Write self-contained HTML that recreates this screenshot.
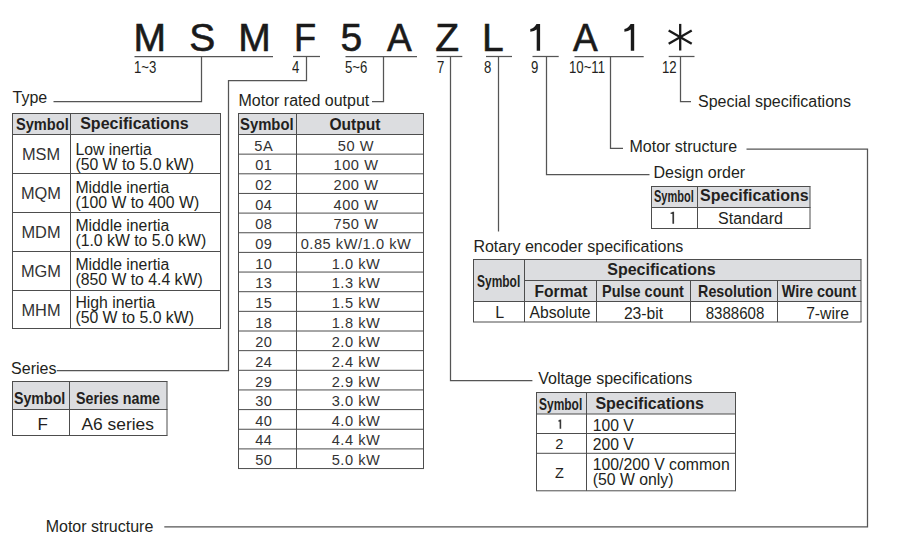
<!DOCTYPE html>
<html><head><meta charset="utf-8"><style>
html,body{margin:0;padding:0;background:#fff;}
body{width:909px;height:559px;position:relative;overflow:hidden;font-family:"Liberation Sans", sans-serif;}
.t{position:absolute;white-space:pre;line-height:1;}
svg{position:absolute;left:0;top:0;}
</style></head><body>
<svg width="909" height="559" viewBox="0 0 909 559"><path d="M540.1 24.1 L540.1 50.7 L536.7 50.7 L536.7 29.6 Q534.2 31.5 530.3000000000001 31.7 L530.3000000000001 29.1 Q533.9000000000001 28.6 536.5 24.1 Z" fill="#1a1a1a"/><path d="M634.2 24.1 L634.2 50.7 L630.8000000000001 50.7 L630.8000000000001 29.6 Q628.3000000000001 31.5 624.4000000000001 31.7 L624.4000000000001 29.1 Q628.0000000000001 28.6 630.6 24.1 Z" fill="#1a1a1a"/><line x1="680.2" y1="23.900000000000002" x2="680.2" y2="50.5" stroke="#1a1a1a" stroke-width="2.3"/><line x1="668.68" y1="43.85" x2="691.72" y2="30.55" stroke="#1a1a1a" stroke-width="2.3"/><line x1="668.68" y1="30.55" x2="691.72" y2="43.85" stroke="#1a1a1a" stroke-width="2.3"/><line x1="134.5" y1="56.5" x2="273" y2="56.5" stroke="#555555" stroke-width="1.25"/><line x1="293" y1="56.5" x2="320" y2="56.5" stroke="#555555" stroke-width="1.25"/><line x1="345.5" y1="56.5" x2="417" y2="56.5" stroke="#555555" stroke-width="1.25"/><line x1="436.6" y1="56.5" x2="462.3" y2="56.5" stroke="#555555" stroke-width="1.25"/><line x1="486" y1="56.5" x2="512" y2="56.5" stroke="#555555" stroke-width="1.25"/><line x1="532.5" y1="56.5" x2="558.7" y2="56.5" stroke="#555555" stroke-width="1.25"/><line x1="574.5" y1="56.5" x2="643.7" y2="56.5" stroke="#555555" stroke-width="1.25"/><line x1="668.7" y1="56.5" x2="694.5" y2="56.5" stroke="#555555" stroke-width="1.25"/><polyline points="201.5,56.5 201.5,101.5 53.5,101.5" fill="none" stroke="#555555" stroke-width="1.25" stroke-linejoin="miter"/><polyline points="306.5,56.5 306.5,80.5 228.5,80.5 228.5,370.5 56.8,370.5" fill="none" stroke="#555555" stroke-width="1.25" stroke-linejoin="miter"/><polyline points="383.5,56.5 383.5,101.5 372,101.5" fill="none" stroke="#555555" stroke-width="1.25" stroke-linejoin="miter"/><polyline points="450.5,56.5 450.5,380.5 532.4,380.5" fill="none" stroke="#555555" stroke-width="1.25" stroke-linejoin="miter"/><line x1="498.5" y1="56.5" x2="498.5" y2="231.5" stroke="#555555" stroke-width="1.25"/><polyline points="546.5,56.5 546.5,174.5 649.5,174.5" fill="none" stroke="#555555" stroke-width="1.25" stroke-linejoin="miter"/><polyline points="610.5,56.5 610.5,148.3 623,148.3" fill="none" stroke="#555555" stroke-width="1.25" stroke-linejoin="miter"/><polyline points="680.5,56.5 680.5,101.5 691,101.5" fill="none" stroke="#555555" stroke-width="1.25" stroke-linejoin="miter"/><polyline points="746.5,149 867.5,149 867.5,526.8 164.3,526.8" fill="none" stroke="#555555" stroke-width="1.25" stroke-linejoin="miter"/><rect x="12.5" y="113.5" width="208.0" height="21.0" fill="#dcdde0"/><line x1="12.0" y1="113.5" x2="221.0" y2="113.5" stroke="#4d4d4d" stroke-width="1.0"/><line x1="12.0" y1="134.5" x2="221.0" y2="134.5" stroke="#4d4d4d" stroke-width="1.0"/><line x1="12.0" y1="173.5" x2="221.0" y2="173.5" stroke="#4d4d4d" stroke-width="1.0"/><line x1="12.0" y1="212.5" x2="221.0" y2="212.5" stroke="#4d4d4d" stroke-width="1.0"/><line x1="12.0" y1="251.5" x2="221.0" y2="251.5" stroke="#4d4d4d" stroke-width="1.0"/><line x1="12.0" y1="290.5" x2="221.0" y2="290.5" stroke="#4d4d4d" stroke-width="1.0"/><line x1="12.0" y1="328.5" x2="221.0" y2="328.5" stroke="#4d4d4d" stroke-width="1.0"/><line x1="12.5" y1="113.5" x2="12.5" y2="328.5" stroke="#4d4d4d" stroke-width="1.0"/><line x1="220.5" y1="113.5" x2="220.5" y2="328.5" stroke="#4d4d4d" stroke-width="1.0"/><line x1="70.5" y1="113.5" x2="70.5" y2="328.5" stroke="#4d4d4d" stroke-width="1.0"/><rect x="238.5" y="113.5" width="185.0" height="21.0" fill="#dcdde0"/><line x1="238.0" y1="113.5" x2="424.0" y2="113.5" stroke="#4d4d4d" stroke-width="1.0"/><line x1="238.0" y1="134.5" x2="424.0" y2="134.5" stroke="#4d4d4d" stroke-width="1.0"/><line x1="238.0" y1="154.15" x2="424.0" y2="154.15" stroke="#4d4d4d" stroke-width="1.0"/><line x1="238.0" y1="173.8" x2="424.0" y2="173.8" stroke="#4d4d4d" stroke-width="1.0"/><line x1="238.0" y1="193.45" x2="424.0" y2="193.45" stroke="#4d4d4d" stroke-width="1.0"/><line x1="238.0" y1="213.1" x2="424.0" y2="213.1" stroke="#4d4d4d" stroke-width="1.0"/><line x1="238.0" y1="232.75" x2="424.0" y2="232.75" stroke="#4d4d4d" stroke-width="1.0"/><line x1="238.0" y1="252.4" x2="424.0" y2="252.4" stroke="#4d4d4d" stroke-width="1.0"/><line x1="238.0" y1="272.05" x2="424.0" y2="272.05" stroke="#4d4d4d" stroke-width="1.0"/><line x1="238.0" y1="291.7" x2="424.0" y2="291.7" stroke="#4d4d4d" stroke-width="1.0"/><line x1="238.0" y1="311.35" x2="424.0" y2="311.35" stroke="#4d4d4d" stroke-width="1.0"/><line x1="238.0" y1="331.0" x2="424.0" y2="331.0" stroke="#4d4d4d" stroke-width="1.0"/><line x1="238.0" y1="350.65" x2="424.0" y2="350.65" stroke="#4d4d4d" stroke-width="1.0"/><line x1="238.0" y1="370.3" x2="424.0" y2="370.3" stroke="#4d4d4d" stroke-width="1.0"/><line x1="238.0" y1="389.95" x2="424.0" y2="389.95" stroke="#4d4d4d" stroke-width="1.0"/><line x1="238.0" y1="409.6" x2="424.0" y2="409.6" stroke="#4d4d4d" stroke-width="1.0"/><line x1="238.0" y1="429.25" x2="424.0" y2="429.25" stroke="#4d4d4d" stroke-width="1.0"/><line x1="238.0" y1="448.9" x2="424.0" y2="448.9" stroke="#4d4d4d" stroke-width="1.0"/><line x1="238.0" y1="468.55" x2="424.0" y2="468.55" stroke="#4d4d4d" stroke-width="1.0"/><line x1="238.5" y1="113.5" x2="238.5" y2="468.55" stroke="#4d4d4d" stroke-width="1.0"/><line x1="423.5" y1="113.5" x2="423.5" y2="468.55" stroke="#4d4d4d" stroke-width="1.0"/><line x1="296.5" y1="113.5" x2="296.5" y2="468.55" stroke="#4d4d4d" stroke-width="1.0"/><rect x="12.5" y="381.5" width="154.5" height="28.0" fill="#dcdde0"/><line x1="12.0" y1="381.5" x2="167.5" y2="381.5" stroke="#4d4d4d" stroke-width="1.0"/><line x1="12.0" y1="409.5" x2="167.5" y2="409.5" stroke="#4d4d4d" stroke-width="1.0"/><line x1="12.0" y1="435.5" x2="167.5" y2="435.5" stroke="#4d4d4d" stroke-width="1.0"/><line x1="12.5" y1="381.5" x2="12.5" y2="435.5" stroke="#4d4d4d" stroke-width="1.0"/><line x1="167" y1="381.5" x2="167" y2="435.5" stroke="#4d4d4d" stroke-width="1.0"/><line x1="69.5" y1="381.5" x2="69.5" y2="435.5" stroke="#4d4d4d" stroke-width="1.0"/><rect x="651.5" y="186.5" width="158.5" height="21.0" fill="#dcdde0"/><line x1="651.0" y1="186.5" x2="810.5" y2="186.5" stroke="#4d4d4d" stroke-width="1.0"/><line x1="651.0" y1="207.5" x2="810.5" y2="207.5" stroke="#4d4d4d" stroke-width="1.0"/><line x1="651.0" y1="228.5" x2="810.5" y2="228.5" stroke="#4d4d4d" stroke-width="1.0"/><line x1="651.5" y1="186.5" x2="651.5" y2="228.5" stroke="#4d4d4d" stroke-width="1.0"/><line x1="810" y1="186.5" x2="810" y2="228.5" stroke="#4d4d4d" stroke-width="1.0"/><line x1="697.5" y1="186.5" x2="697.5" y2="228.5" stroke="#4d4d4d" stroke-width="1.0"/><path d="M674.1 211.8 L674.1 223.8 L672.4 223.8 L672.4 214.0 L670.5 213.70000000000002 L670.5 212.70000000000002 C671.8 212.60000000000002 672.4 212.20000000000002 672.6999999999999 211.8 Z" fill="#383838"/><rect x="473.5" y="259.5" width="387.5" height="42.0" fill="#dcdde0"/><line x1="473" y1="259.5" x2="861.5" y2="259.5" stroke="#4d4d4d" stroke-width="1.0"/><line x1="473" y1="301.5" x2="861.5" y2="301.5" stroke="#4d4d4d" stroke-width="1.0"/><line x1="473" y1="322" x2="861.5" y2="322" stroke="#4d4d4d" stroke-width="1.0"/><line x1="524.5" y1="280.5" x2="861" y2="280.5" stroke="#4d4d4d" stroke-width="1.0"/><line x1="473.5" y1="259.5" x2="473.5" y2="322" stroke="#4d4d4d" stroke-width="1.0"/><line x1="524.5" y1="259.5" x2="524.5" y2="322" stroke="#4d4d4d" stroke-width="1.0"/><line x1="861" y1="259.5" x2="861" y2="322" stroke="#4d4d4d" stroke-width="1.0"/><line x1="596.5" y1="280.5" x2="596.5" y2="322" stroke="#4d4d4d" stroke-width="1.0"/><line x1="690.5" y1="280.5" x2="690.5" y2="322" stroke="#4d4d4d" stroke-width="1.0"/><line x1="777.5" y1="280.5" x2="777.5" y2="322" stroke="#4d4d4d" stroke-width="1.0"/><rect x="536.5" y="392.5" width="199.0" height="21.5" fill="#dcdde0"/><line x1="536.0" y1="392.5" x2="736.0" y2="392.5" stroke="#4d4d4d" stroke-width="1.0"/><line x1="536.0" y1="414" x2="736.0" y2="414" stroke="#4d4d4d" stroke-width="1.0"/><line x1="536.0" y1="433.5" x2="736.0" y2="433.5" stroke="#4d4d4d" stroke-width="1.0"/><line x1="536.0" y1="453.3" x2="736.0" y2="453.3" stroke="#4d4d4d" stroke-width="1.0"/><line x1="536.0" y1="490.8" x2="736.0" y2="490.8" stroke="#4d4d4d" stroke-width="1.0"/><line x1="536.5" y1="392.5" x2="536.5" y2="490.8" stroke="#4d4d4d" stroke-width="1.0"/><line x1="735.5" y1="392.5" x2="735.5" y2="490.8" stroke="#4d4d4d" stroke-width="1.0"/><line x1="586.5" y1="392.5" x2="586.5" y2="490.8" stroke="#4d4d4d" stroke-width="1.0"/><path d="M561.2 419.6 L561.2 428.8 L559.6 428.8 L559.6 421.8 L558.3000000000001 421.5 L558.3000000000001 420.5 C559.0 420.40000000000003 559.6 420.0 559.9 419.6 Z" fill="#383838"/></svg>
<div class="t" style="left:133.54px;top:17.99px;font-size:39px;font-weight:normal;color:#1a1a1a;-webkit-text-stroke:0.6px #1a1a1a;">M</div><div class="t" style="left:189.35px;top:17.99px;font-size:39px;font-weight:normal;color:#1a1a1a;-webkit-text-stroke:0.6px #1a1a1a;">S</div><div class="t" style="left:238.24px;top:17.99px;font-size:39px;font-weight:normal;color:#1a1a1a;-webkit-text-stroke:0.6px #1a1a1a;">M</div><div class="t" style="left:293.5px;top:17.99px;font-size:39px;font-weight:normal;color:#1a1a1a;transform:scaleX(0.93);transform-origin:left 0;-webkit-text-stroke:0.6px #1a1a1a;">F</div><div class="t" style="left:340.55px;top:17.99px;font-size:39px;font-weight:normal;color:#1a1a1a;-webkit-text-stroke:0.6px #1a1a1a;">5</div><div class="t" style="left:386.62px;top:17.99px;font-size:39px;font-weight:normal;color:#1a1a1a;transform:scaleX(0.95);transform-origin:left 0;-webkit-text-stroke:0.6px #1a1a1a;">A</div><div class="t" style="left:435.18px;top:17.99px;font-size:39px;font-weight:normal;color:#1a1a1a;-webkit-text-stroke:0.6px #1a1a1a;">Z</div><div class="t" style="left:481.88px;top:17.99px;font-size:39px;font-weight:normal;color:#1a1a1a;-webkit-text-stroke:0.6px #1a1a1a;">L</div><div class="t" style="left:572.62px;top:17.99px;font-size:39px;font-weight:normal;color:#1a1a1a;transform:scaleX(0.95);transform-origin:left 0;-webkit-text-stroke:0.6px #1a1a1a;">A</div><div class="t" style="left:134.4px;top:59.20px;font-size:16.3px;font-weight:normal;color:#231f20;transform:scaleX(0.81);transform-origin:left 0;">1~3</div><div class="t" style="left:292.4px;top:59.20px;font-size:16.3px;font-weight:normal;color:#231f20;transform:scaleX(0.81);transform-origin:left 0;">4</div><div class="t" style="left:344.8px;top:59.20px;font-size:16.3px;font-weight:normal;color:#231f20;transform:scaleX(0.81);transform-origin:left 0;">5~6</div><div class="t" style="left:436.5px;top:59.20px;font-size:16.3px;font-weight:normal;color:#231f20;transform:scaleX(0.81);transform-origin:left 0;">7</div><div class="t" style="left:484.0px;top:59.20px;font-size:16.3px;font-weight:normal;color:#231f20;transform:scaleX(0.81);transform-origin:left 0;">8</div><div class="t" style="left:530.5px;top:59.20px;font-size:16.3px;font-weight:normal;color:#231f20;transform:scaleX(0.81);transform-origin:left 0;">9</div><div class="t" style="left:569.4px;top:59.20px;font-size:16.3px;font-weight:normal;color:#231f20;transform:scaleX(0.81);transform-origin:left 0;">10~11</div><div class="t" style="left:662.2px;top:59.20px;font-size:16.3px;font-weight:normal;color:#231f20;transform:scaleX(0.81);transform-origin:left 0;">12</div><div class="t" style="left:12.5px;top:89.56px;font-size:16px;font-weight:normal;color:#231f20;">Type</div><div class="t" style="left:238.5px;top:93.06px;font-size:16px;font-weight:normal;color:#231f20;">Motor rated output</div><div class="t" style="left:11.1px;top:360.56px;font-size:16px;font-weight:normal;color:#231f20;">Series</div><div class="t" style="left:698px;top:94.46px;font-size:16px;font-weight:normal;color:#231f20;">Special specifications</div><div class="t" style="left:629.5px;top:138.96px;font-size:16px;font-weight:normal;color:#231f20;">Motor structure</div><div class="t" style="left:653.5px;top:164.66px;font-size:16px;font-weight:normal;color:#231f20;">Design order</div><div class="t" style="left:473.4px;top:238.56px;font-size:16px;font-weight:normal;color:#231f20;">Rotary encoder specifications</div><div class="t" style="left:538.3px;top:371.46px;font-size:16px;font-weight:normal;color:#231f20;">Voltage specifications</div><div class="t" style="left:45.7px;top:518.86px;font-size:16px;font-weight:normal;color:#231f20;">Motor structure</div><div class="t" style="left:16.0px;top:115.93px;font-size:16.5px;font-weight:bold;color:#231f20;transform:scaleX(0.885);transform-origin:left 0;">Symbol</div><div class="t" style="left:80.2px;top:116.46px;font-size:16px;font-weight:bold;color:#231f20;">Specifications</div><div class="t" style="left:-258.8px;width:600px;text-align:center;top:146.59px;font-size:15.6px;font-weight:normal;color:#333;transform:scaleX(1.05);transform-origin:center 0;">MSM</div><div class="t" style="left:75.4px;top:141.63px;font-size:15.8px;font-weight:normal;color:#231f20;">Low inertia</div><div class="t" style="left:75.4px;top:156.73px;font-size:15.8px;font-weight:normal;color:#231f20;">(50 W to 5.0 kW)</div><div class="t" style="left:-258.8px;width:600px;text-align:center;top:185.64px;font-size:15.6px;font-weight:normal;color:#333;transform:scaleX(1.05);transform-origin:center 0;">MQM</div><div class="t" style="left:75.4px;top:179.93px;font-size:15.8px;font-weight:normal;color:#231f20;">Middle inertia</div><div class="t" style="left:75.4px;top:195.03px;font-size:15.8px;font-weight:normal;color:#231f20;">(100 W to 400 W)</div><div class="t" style="left:-258.8px;width:600px;text-align:center;top:224.69px;font-size:15.6px;font-weight:normal;color:#333;transform:scaleX(1.05);transform-origin:center 0;">MDM</div><div class="t" style="left:75.4px;top:218.23px;font-size:15.8px;font-weight:normal;color:#231f20;">Middle inertia</div><div class="t" style="left:75.4px;top:233.33px;font-size:15.8px;font-weight:normal;color:#231f20;">(1.0 kW to 5.0 kW)</div><div class="t" style="left:-258.8px;width:600px;text-align:center;top:263.74px;font-size:15.6px;font-weight:normal;color:#333;transform:scaleX(1.05);transform-origin:center 0;">MGM</div><div class="t" style="left:75.4px;top:256.53px;font-size:15.8px;font-weight:normal;color:#231f20;">Middle inertia</div><div class="t" style="left:75.4px;top:271.63px;font-size:15.8px;font-weight:normal;color:#231f20;">(850 W to 4.4 kW)</div><div class="t" style="left:-258.8px;width:600px;text-align:center;top:302.79px;font-size:15.6px;font-weight:normal;color:#333;transform:scaleX(1.05);transform-origin:center 0;">MHM</div><div class="t" style="left:75.4px;top:294.83px;font-size:15.8px;font-weight:normal;color:#231f20;">High inertia</div><div class="t" style="left:75.4px;top:309.93px;font-size:15.8px;font-weight:normal;color:#231f20;">(50 W to 5.0 kW)</div><div class="t" style="left:240.4px;top:115.93px;font-size:16.5px;font-weight:bold;color:#231f20;transform:scaleX(0.9);transform-origin:left 0;">Symbol</div><div class="t" style="left:329.4px;top:116.59px;font-size:15.6px;font-weight:bold;color:#231f20;">Output</div><div class="t" style="left:-36.19999999999999px;width:600px;text-align:center;top:138.74px;font-size:14.6px;font-weight:normal;color:#333;letter-spacing:0.55px;">5A</div><div class="t" style="left:56px;width:600px;text-align:center;top:138.74px;font-size:14.6px;font-weight:normal;color:#333;letter-spacing:0.55px;">50 W</div><div class="t" style="left:-36.19999999999999px;width:600px;text-align:center;top:158.39px;font-size:14.6px;font-weight:normal;color:#333;letter-spacing:0.55px;">01</div><div class="t" style="left:56px;width:600px;text-align:center;top:158.39px;font-size:14.6px;font-weight:normal;color:#333;letter-spacing:0.55px;">100 W</div><div class="t" style="left:-36.19999999999999px;width:600px;text-align:center;top:178.04px;font-size:14.6px;font-weight:normal;color:#333;letter-spacing:0.55px;">02</div><div class="t" style="left:56px;width:600px;text-align:center;top:178.04px;font-size:14.6px;font-weight:normal;color:#333;letter-spacing:0.55px;">200 W</div><div class="t" style="left:-36.19999999999999px;width:600px;text-align:center;top:197.69px;font-size:14.6px;font-weight:normal;color:#333;letter-spacing:0.55px;">04</div><div class="t" style="left:56px;width:600px;text-align:center;top:197.69px;font-size:14.6px;font-weight:normal;color:#333;letter-spacing:0.55px;">400 W</div><div class="t" style="left:-36.19999999999999px;width:600px;text-align:center;top:217.34px;font-size:14.6px;font-weight:normal;color:#333;letter-spacing:0.55px;">08</div><div class="t" style="left:56px;width:600px;text-align:center;top:217.34px;font-size:14.6px;font-weight:normal;color:#333;letter-spacing:0.55px;">750 W</div><div class="t" style="left:-36.19999999999999px;width:600px;text-align:center;top:236.99px;font-size:14.6px;font-weight:normal;color:#333;letter-spacing:0.55px;">09</div><div class="t" style="left:56px;width:600px;text-align:center;top:236.99px;font-size:14.6px;font-weight:normal;color:#333;letter-spacing:0.55px;">0.85 kW/1.0 kW</div><div class="t" style="left:-36.19999999999999px;width:600px;text-align:center;top:256.64px;font-size:14.6px;font-weight:normal;color:#333;letter-spacing:0.55px;">10</div><div class="t" style="left:56px;width:600px;text-align:center;top:256.64px;font-size:14.6px;font-weight:normal;color:#333;letter-spacing:0.55px;">1.0 kW</div><div class="t" style="left:-36.19999999999999px;width:600px;text-align:center;top:276.29px;font-size:14.6px;font-weight:normal;color:#333;letter-spacing:0.55px;">13</div><div class="t" style="left:56px;width:600px;text-align:center;top:276.29px;font-size:14.6px;font-weight:normal;color:#333;letter-spacing:0.55px;">1.3 kW</div><div class="t" style="left:-36.19999999999999px;width:600px;text-align:center;top:295.94px;font-size:14.6px;font-weight:normal;color:#333;letter-spacing:0.55px;">15</div><div class="t" style="left:56px;width:600px;text-align:center;top:295.94px;font-size:14.6px;font-weight:normal;color:#333;letter-spacing:0.55px;">1.5 kW</div><div class="t" style="left:-36.19999999999999px;width:600px;text-align:center;top:315.59px;font-size:14.6px;font-weight:normal;color:#333;letter-spacing:0.55px;">18</div><div class="t" style="left:56px;width:600px;text-align:center;top:315.59px;font-size:14.6px;font-weight:normal;color:#333;letter-spacing:0.55px;">1.8 kW</div><div class="t" style="left:-36.19999999999999px;width:600px;text-align:center;top:335.24px;font-size:14.6px;font-weight:normal;color:#333;letter-spacing:0.55px;">20</div><div class="t" style="left:56px;width:600px;text-align:center;top:335.24px;font-size:14.6px;font-weight:normal;color:#333;letter-spacing:0.55px;">2.0 kW</div><div class="t" style="left:-36.19999999999999px;width:600px;text-align:center;top:354.89px;font-size:14.6px;font-weight:normal;color:#333;letter-spacing:0.55px;">24</div><div class="t" style="left:56px;width:600px;text-align:center;top:354.89px;font-size:14.6px;font-weight:normal;color:#333;letter-spacing:0.55px;">2.4 kW</div><div class="t" style="left:-36.19999999999999px;width:600px;text-align:center;top:374.54px;font-size:14.6px;font-weight:normal;color:#333;letter-spacing:0.55px;">29</div><div class="t" style="left:56px;width:600px;text-align:center;top:374.54px;font-size:14.6px;font-weight:normal;color:#333;letter-spacing:0.55px;">2.9 kW</div><div class="t" style="left:-36.19999999999999px;width:600px;text-align:center;top:394.19px;font-size:14.6px;font-weight:normal;color:#333;letter-spacing:0.55px;">30</div><div class="t" style="left:56px;width:600px;text-align:center;top:394.19px;font-size:14.6px;font-weight:normal;color:#333;letter-spacing:0.55px;">3.0 kW</div><div class="t" style="left:-36.19999999999999px;width:600px;text-align:center;top:413.84px;font-size:14.6px;font-weight:normal;color:#333;letter-spacing:0.55px;">40</div><div class="t" style="left:56px;width:600px;text-align:center;top:413.84px;font-size:14.6px;font-weight:normal;color:#333;letter-spacing:0.55px;">4.0 kW</div><div class="t" style="left:-36.19999999999999px;width:600px;text-align:center;top:433.49px;font-size:14.6px;font-weight:normal;color:#333;letter-spacing:0.55px;">44</div><div class="t" style="left:56px;width:600px;text-align:center;top:433.49px;font-size:14.6px;font-weight:normal;color:#333;letter-spacing:0.55px;">4.4 kW</div><div class="t" style="left:-36.19999999999999px;width:600px;text-align:center;top:453.14px;font-size:14.6px;font-weight:normal;color:#333;letter-spacing:0.55px;">50</div><div class="t" style="left:56px;width:600px;text-align:center;top:453.14px;font-size:14.6px;font-weight:normal;color:#333;letter-spacing:0.55px;">5.0 kW</div><div class="t" style="left:14.1px;top:390.23px;font-size:16.5px;font-weight:bold;color:#231f20;transform:scaleX(0.86);transform-origin:left 0;">Symbol</div><div class="t" style="left:75.7px;top:390.23px;font-size:16.5px;font-weight:bold;color:#231f20;transform:scaleX(0.864);transform-origin:left 0;">Series name</div><div class="t" style="left:37.4px;top:416.31px;font-size:17px;font-weight:normal;color:#231f20;">F</div><div class="t" style="left:-182.3px;width:600px;text-align:center;top:416.27px;font-size:17.4px;font-weight:normal;color:#231f20;">A6 series</div><div class="t" style="left:653.7px;top:187.73px;font-size:16.5px;font-weight:bold;color:#231f20;transform:scaleX(0.67);transform-origin:left 0;">Symbol</div><div class="t" style="left:700.1px;top:188.46px;font-size:16px;font-weight:bold;color:#231f20;">Specifications</div><div class="t" style="left:450.5px;width:600px;text-align:center;top:211.46px;font-size:16px;font-weight:normal;color:#231f20;">Standard</div><div class="t" style="left:477.1px;top:273.23px;font-size:16.5px;font-weight:bold;color:#231f20;transform:scaleX(0.725);transform-origin:left 0;">Symbol</div><div class="t" style="left:361.5px;width:600px;text-align:center;top:262.46px;font-size:16px;font-weight:bold;color:#231f20;">Specifications</div><div class="t" style="left:261px;width:600px;text-align:center;top:283.79px;font-size:15.6px;font-weight:bold;color:#231f20;">Format</div><div class="t" style="left:343.4px;width:600px;text-align:center;top:283.71px;font-size:15.7px;font-weight:bold;color:#231f20;transform:scaleX(0.92);transform-origin:center 0;">Pulse count</div><div class="t" style="left:435.1px;width:600px;text-align:center;top:283.71px;font-size:15.7px;font-weight:bold;color:#231f20;transform:scaleX(0.91);transform-origin:center 0;">Resolution</div><div class="t" style="left:519.2px;width:600px;text-align:center;top:283.71px;font-size:15.7px;font-weight:bold;color:#231f20;transform:scaleX(0.92);transform-origin:center 0;">Wire count</div><div class="t" style="left:199.8px;width:600px;text-align:center;top:304.76px;font-size:16px;font-weight:normal;color:#231f20;">L</div><div class="t" style="left:260px;width:600px;text-align:center;top:305.31px;font-size:15.7px;font-weight:normal;color:#231f20;">Absolute</div><div class="t" style="left:343.5px;width:600px;text-align:center;top:305.91px;font-size:15.7px;font-weight:normal;color:#231f20;">23-bit</div><div class="t" style="left:435px;width:600px;text-align:center;top:305.91px;font-size:15.7px;font-weight:normal;color:#231f20;transform:scaleX(0.96);transform-origin:center 0;">8388608</div><div class="t" style="left:527.5px;width:600px;text-align:center;top:305.91px;font-size:15.7px;font-weight:normal;color:#231f20;">7-wire</div><div class="t" style="left:539.3px;top:395.73px;font-size:16.5px;font-weight:bold;color:#231f20;transform:scaleX(0.725);transform-origin:left 0;">Symbol</div><div class="t" style="left:595.4px;top:396.06px;font-size:16px;font-weight:bold;color:#231f20;">Specifications</div><div class="t" style="left:592.7px;top:418.01px;font-size:15.7px;font-weight:normal;color:#231f20;">100 V</div><div class="t" style="left:259.4px;width:600px;text-align:center;top:436.74px;font-size:14.6px;font-weight:normal;color:#231f20;">2</div><div class="t" style="left:592.7px;top:437.01px;font-size:15.7px;font-weight:normal;color:#231f20;">200 V</div><div class="t" style="left:259.4px;width:600px;text-align:center;top:466.23px;font-size:14.5px;font-weight:normal;color:#231f20;">Z</div><div class="t" style="left:592.7px;top:456.63px;font-size:15.8px;font-weight:normal;color:#231f20;">100/200 V common</div><div class="t" style="left:592.7px;top:472.43px;font-size:15.8px;font-weight:normal;color:#231f20;">(50 W only)</div>
</body></html>
